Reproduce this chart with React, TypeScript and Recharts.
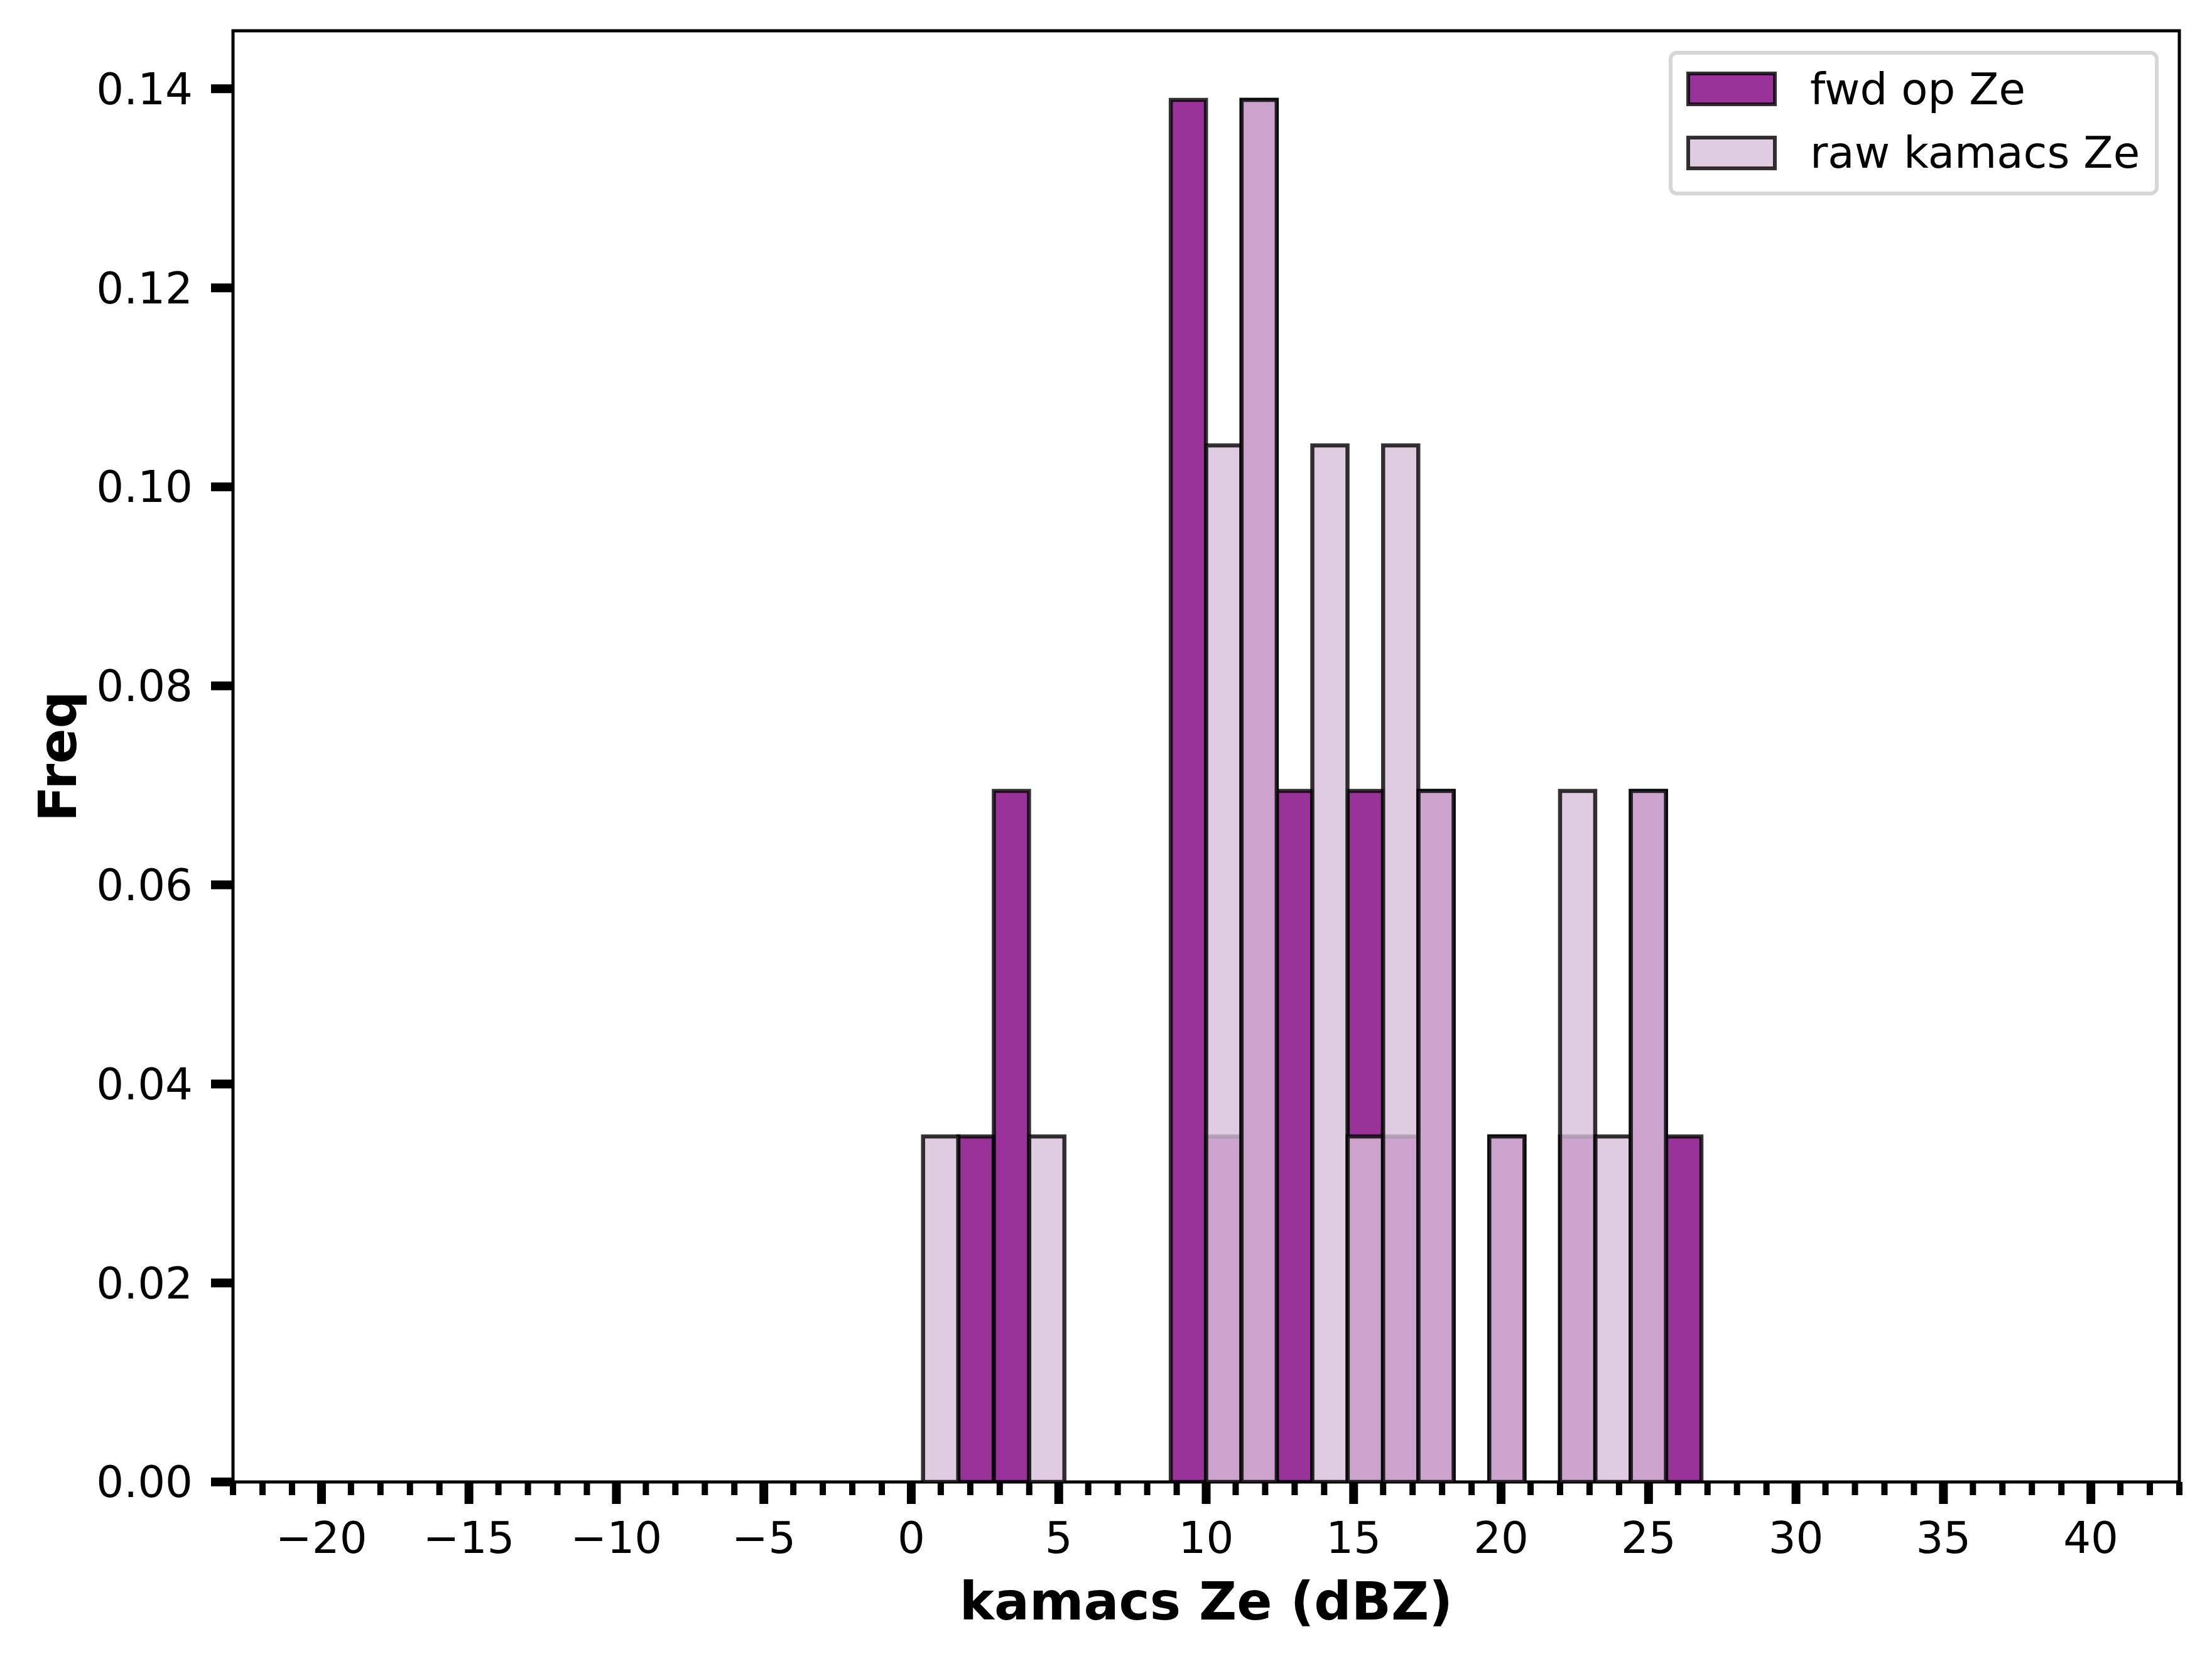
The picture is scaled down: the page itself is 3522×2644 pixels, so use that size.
import React from 'react';
import { ComposedChart, Bar, XAxis, YAxis, ReferenceArea, Legend } from 'recharts';

// Histogram bins (left edges, dBZ), 50 bins of width 1.2 from -20 to 40
const binStarts = [
  -20, -18.8, -17.6, -16.4, -15.2, -14, -12.8, -11.6, -10.4, -9.2,
  -8, -6.8, -5.6, -4.4, -3.2, -2, -0.8, 0.4, 1.6, 2.8,
  4, 5.2, 6.4, 7.6, 8.8, 10, 11.2, 12.4, 13.6, 14.8,
  16, 17.2, 18.4, 19.6, 20.8, 22, 23.2, 24.4, 25.6, 26.8,
  28, 29.2, 30.4, 31.6, 32.8, 34, 35.2, 36.4, 37.6, 38.8,
];

// "fwd op Ze" normalized frequencies
const fwdFreq = [
  0, 0, 0, 0, 0, 0, 0, 0, 0, 0,
  0, 0, 0, 0, 0, 0, 0, 0, 0.03472, 0.06944,
  0, 0, 0, 0, 0.13889, 0.03472, 0.13889, 0.06944, 0, 0.06944,
  0.03472, 0.06944, 0, 0.03472, 0, 0.03472, 0, 0.06944, 0.03472, 0,
  0, 0, 0, 0, 0, 0, 0, 0, 0, 0,
];

// "raw kamacs Ze" normalized frequencies
const rawFreq = [
  0, 0, 0, 0, 0, 0, 0, 0, 0, 0,
  0, 0, 0, 0, 0, 0, 0, 0.03472, 0, 0,
  0.03472, 0, 0, 0, 0, 0.10417, 0.13889, 0, 0.10417, 0.03472,
  0.10417, 0.06944, 0, 0.03472, 0, 0.06944, 0.03472, 0.06944, 0, 0,
  0, 0, 0, 0, 0, 0, 0, 0, 0, 0,
];

const xMajorTicks = [-20, -15, -10, -5, 0, 5, 10, 15, 20, 25, 30, 35, 40];
const xMinorTicks = [
  -23, -22, -21, -19, -18, -17, -16, -14, -13, -12, -11, -9, -8, -7, -6, -4, -3, -2, -1,
  1, 2, 3, 4, 6, 7, 8, 9, 11, 12, 13, 14, 16, 17, 18, 19, 21, 22, 23, 24, 26, 27, 28, 29,
  31, 32, 33, 34, 36, 37, 38, 39, 41, 42, 43,
];
const yTicks = [0, 0.02, 0.04, 0.06, 0.08, 0.1, 0.12, 0.14];

const seriesNames = ['fwd op Ze', 'raw kamacs Ze'];

const data = binStarts.map((b, i) => ({ bin: b, fwd: fwdFreq[i], raw: rawFreq[i] }));
const xTicks = [...xMajorTicks, ...xMinorTicks].sort((a, b) => a - b);

const FONT = 'DejaVu Sans';
const W = 3522;
const H = 2644;
const M = { top: 49, right: 52, left: 0, bottom: 0 };
const Y_AXIS_W = 371;
const X_AXIS_H = 285;
const PLOT_BOTTOM = H - M.bottom - X_AXIS_H;
const X_DOMAIN: [number, number] = [-23, 43];
const Y_DOMAIN: [number, number] = [0, 0.14583];
const plotW = W - M.left - M.right - Y_AXIS_W;
const binPad = (plotW * (-20 - X_DOMAIN[0])) / (X_DOMAIN[1] - X_DOMAIN[0]);

const FWD_FILL = '#800080';
const RAW_FILL = '#d8bfd8';

const fmtX = (v: number) => String(v).replace('-', '\u2212');

const XTick = (props: any) => {
  const { x, payload } = props;
  const v = payload.value;
  const major = xMajorTicks.includes(v);
  const y = PLOT_BOTTOM;
  return (
    <g>
      <line x1={x} x2={x} y1={y} y2={y + (major ? 35 : 21)} stroke="#000" strokeWidth={major ? 14 : 10} />
      {major && (
        <text x={x} y={y + 113} textAnchor="middle" fontSize={69} fontFamily={FONT} fill="#000">
          {fmtX(v)}
        </text>
      )}
    </g>
  );
};

const YLabel = (props: any) => {
  const vb = props.viewBox || { x: 0, y: M.top, width: Y_AXIS_W, height: 2310 };
  const cx = vb.x + 121;
  const cy = vb.y + vb.height / 2;
  return (
    <text
      x={cx}
      y={cy}
      transform={`rotate(-90 ${cx} ${cy})`}
      textAnchor="middle"
      fontSize={83}
      fontWeight="bold"
      fontFamily={FONT}
      fill="#000"
    >
      Freq
    </text>
  );
};

const LegendBox = () => (
  <svg width={781} height={230} style={{ display: 'block' }}>
    <rect x={3} y={3} width={774} height={224} rx={10} ry={10} fill="#fff" fillOpacity={0.8} stroke="#d6d6d6" strokeWidth={6} />
    <rect x={31} y={36} width={138} height={49} fill={FWD_FILL} fillOpacity={0.8} stroke="#000" strokeOpacity={0.8} strokeWidth={6} />
    <text x={225} y={85} fontSize={69} fontFamily={FONT} fill="#000">{seriesNames[0]}</text>
    <rect x={31} y={138} width={138} height={49} fill={RAW_FILL} fillOpacity={0.8} stroke="#000" strokeOpacity={0.8} strokeWidth={6} />
    <text x={225} y={186} fontSize={69} fontFamily={FONT} fill="#000">{seriesNames[1]}</text>
  </svg>
);

export default function App() {
  return (
    <div style={{ position: 'absolute', left: 0, top: 0, width: W, height: H, background: '#fff' }}>
      <ComposedChart width={W} height={H} data={data} margin={M} barCategoryGap={0} barGap={0}>
        <XAxis
          xAxisId="num"
          dataKey="bin"
          type="number"
          domain={X_DOMAIN}
          allowDataOverflow
          ticks={xTicks}
          interval={0}
          tickSize={0}
          tickMargin={0}
          tickLine={false}
          axisLine={false}
          height={X_AXIS_H}
          tick={<XTick />}
          label={{
            value: 'kamacs Ze (dBZ)',
            position: 'insideBottom',
            offset: 66,
            style: { fontSize: 83, fontWeight: 'bold', fontFamily: FONT, fill: '#000' },
          }}
        />
        <XAxis xAxisId="fwdBins" dataKey="bin" type="category" hide height={0} padding={{ left: binPad, right: binPad }} />
        <XAxis xAxisId="rawBins" dataKey="bin" type="category" hide height={0} padding={{ left: binPad, right: binPad }} />
        <YAxis
          type="number"
          domain={Y_DOMAIN}
          allowDataOverflow
          ticks={yTicks}
          interval={0}
          width={Y_AXIS_W}
          axisLine={false}
          tickLine={{ stroke: '#000', strokeWidth: 14 }}
          tickSize={35}
          tickMargin={29}
          tickFormatter={(v: number) => v.toFixed(2)}
          tick={{ fill: '#000', fontSize: 69, fontFamily: FONT }}
          label={<YLabel />}
        />
        <Bar
          xAxisId="fwdBins"
          dataKey="fwd"
          name={seriesNames[0]}
          fill={FWD_FILL}
          fillOpacity={0.8}
          stroke="#000"
          strokeOpacity={0.8}
          strokeWidth={6.5}
          isAnimationActive={false}
        />
        <Bar
          xAxisId="rawBins"
          dataKey="raw"
          name={seriesNames[1]}
          fill={RAW_FILL}
          fillOpacity={0.8}
          stroke="#000"
          strokeOpacity={0.8}
          strokeWidth={6.5}
          isAnimationActive={false}
        />
        <ReferenceArea
          xAxisId="num"
          x1={X_DOMAIN[0]}
          x2={X_DOMAIN[1]}
          y1={Y_DOMAIN[0]}
          y2={Y_DOMAIN[1]}
          ifOverflow="visible"
          fill="none"
          stroke="#000"
          strokeWidth={5}
        />
        <Legend
          layout="horizontal"
          verticalAlign="middle"
          align="center"
          content={() => <LegendBox />}
          wrapperStyle={{ left: 2657, top: 81, width: 781, height: 230 }}
        />
      </ComposedChart>
    </div>
  );
}
